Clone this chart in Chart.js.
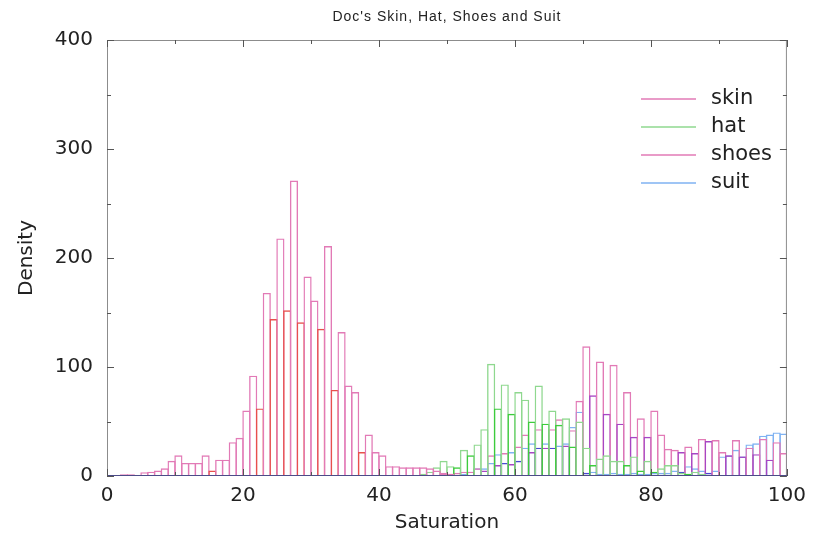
<!DOCTYPE html>
<html><head><meta charset="utf-8">
<script src="https://cdn.jsdelivr.net/npm/chart.js@4.4.1/dist/chart.umd.min.js"></script>
<style>html,body{margin:0;padding:0;background:#fff}#wrap{width:814px;height:538px}</style>
</head><body><div id="wrap"><canvas id="c" width="814" height="538"></canvas></div>
<script>
const chartTitle = "Doc's Skin, Hat, Shoes and Suit";
const xTitle = "Saturation";
const yTitle = "Density";
const seriesNames = ["skin", "hat", "shoes", "suit"];
const xTickValues = [0, 20, 40, 60, 80, 100];
const yTickValues = [0, 100, 200, 300, 400];
// bin centres (bins of width 1 from 0 to 100)
const binCenters = Array.from({length: 100}, (_, i) => i + 0.5);

const skin = [
  0, 0.5, 1.5, 1.5, 0.5, 3.5, 4, 5, 7, 14,
  19, 12, 12, 12, 19, 5, 15, 15, 31, 35,
  60, 92, 62, 168, 144, 218, 152, 271, 141, 183,
  161, 135, 211, 79, 132, 83, 77, 22, 38, 22,
  19, 9, 9, 8, 8, 8, 8, 7, 5, 3,
  2, 1, 1, 0.5, 0.5, 0, 0, 0, 0, 0,
  0, 0, 0, 0, 0, 0, 0, 0, 0, 0,
  0, 0, 0, 0, 0, 0, 0, 0, 0, 0,
  0, 0, 0, 0, 0, 0, 0, 0, 0, 0,
  0, 0, 0, 0, 0, 0, 0, 0, 0, 0
];
const hat = [
  0, 0, 0, 0, 0, 0, 0, 0, 0, 0,
  0, 0, 0, 0, 0, 0, 0, 0, 0, 0,
  0, 0, 0, 0, 0, 0, 0, 0, 0, 0,
  0, 0, 0, 0, 0, 0, 0, 0, 0, 0,
  0, 0, 0, 0, 0, 1, 2, 4, 8, 14,
  9, 8, 24, 19, 29, 43, 103, 62, 84, 57,
  77, 70, 50, 83, 48, 60, 47, 53, 27, 50,
  26, 10, 16, 19, 14, 14, 10, 18, 5, 14,
  4, 7, 10, 10, 3, 2, 4, 2, 1, 1,
  1, 0.5, 0.5, 0, 0, 0, 0, 0, 0, 0
];
const shoes = [
  0, 0, 0, 0, 0, 0, 0, 0, 0, 0,
  0, 0, 0, 0, 0, 0, 0, 0, 0, 0,
  0, 0, 0, 0, 0, 0, 0, 0, 0, 0,
  0, 0, 0, 0, 0, 0, 0, 0, 0, 0,
  0, 0, 0, 0, 0, 0, 0, 1, 1, 2,
  2, 3, 4, 4, 7, 5, 19, 10, 21, 11,
  27, 38, 22, 43, 26, 43, 52, 28, 42, 69,
  119, 74, 105, 57, 102, 48, 77, 36, 53, 36,
  60, 38, 25, 24, 22, 27, 21, 34, 32, 33,
  22, 19, 33, 18, 26, 20, 34, 15, 31, 21
];
const suit = [
  0, 0, 0, 0, 0, 0, 0, 0, 0, 0,
  0, 0, 0, 0, 0, 0, 0, 0, 0, 0,
  0, 0, 0, 0, 0, 0, 0, 0, 0, 0,
  0, 0, 0, 0, 0, 0, 0, 0, 0, 0,
  0, 0, 0, 0, 0, 0, 0, 0, 0, 0,
  1, 1, 2, 4, 7, 7, 12, 20, 12, 22,
  14, 26, 30, 26, 30, 26, 28, 30, 45, 59,
  3, 4, 2, 2, 3, 2, 2, 3, 2, 2,
  3, 3, 3, 5, 4, 9, 7, 5, 3, 5,
  18, 19, 24, 18, 29, 30, 37, 38, 40, 39
];

const seriesValues = [skin, hat, shoes, suit];
const lightColors = ["#e27ab6", "#8fd88f", "#e27ab6", "#7fb2f2"];
const satColors = ["#e8504c", "#3ccc3c", "#a646c4", "#4a4ad0"];

function barColors(vals, light, sat) {
  return vals.map((v, i) => {
    const p = i > 0 ? vals[i - 1] : -1, n = i < vals.length - 1 ? vals[i + 1] : -1;
    return (v < p && v < n) ? sat : light;
  });
}

const datasets = seriesNames.map((name, k) => ({
  label: name,
  data: binCenters.map((c, i) => ({x: c, y: seriesValues[k][i]})),
  backgroundColor: 'rgba(0,0,0,0)',
  borderColor: barColors(seriesValues[k], lightColors[k], satColors[k]),
  legendColor: lightColors[k],
  borderWidth: 1.4,
  borderSkipped: 'start',
  grouped: false,
  categoryPercentage: 1,
  barPercentage: 1.2
}));

const FONT = "'DejaVu Sans', sans-serif";

const overlay = {
  id: 'overlay',
  afterDraw(chart) {
    const {ctx, chartArea: a, scales: {x, y}} = chart;
    ctx.save();
    // frame
    ctx.lineWidth = 1;
    ctx.strokeStyle = '#8c8c8c';
    ctx.beginPath();
    ctx.moveTo(a.left + 0.5, a.bottom); ctx.lineTo(a.left + 0.5, a.top + 0.5);
    ctx.lineTo(a.right - 0.5, a.top + 0.5); ctx.lineTo(a.right - 0.5, a.bottom);
    ctx.stroke();
    ctx.strokeStyle = '#4c4c88';
    ctx.beginPath();
    ctx.moveTo(a.left, a.bottom - 0.5); ctx.lineTo(a.right, a.bottom - 0.5);
    ctx.stroke();
    // ticks
    ctx.strokeStyle = '#555';
    ctx.beginPath();
    for (let v = 0; v <= 100; v += 10) {
      const px = Math.round(x.getPixelForValue(v)) + 0.5;
      const len = (v % 20 === 0) ? 7 : 4;
      ctx.moveTo(px, a.bottom); ctx.lineTo(px, a.bottom - len);
      ctx.moveTo(px, a.top); ctx.lineTo(px, a.top + len);
    }
    for (let v = 0; v <= 400; v += 50) {
      const py = Math.round(y.getPixelForValue(v)) + 0.5;
      const len = (v % 100 === 0) ? 7 : 4;
      ctx.moveTo(a.left, py); ctx.lineTo(a.left + len, py);
      ctx.moveTo(a.right, py); ctx.lineTo(a.right - len, py);
    }
    ctx.stroke();
    // title
    ctx.fillStyle = '#222';
    ctx.font = "14px 'Liberation Sans', Arial, sans-serif";
    ctx.letterSpacing = '1px';
    ctx.textAlign = 'center';
    ctx.textBaseline = 'middle';
    ctx.fillText(chartTitle, (a.left + a.right) / 2, 17);
    ctx.letterSpacing = '0px';
    // legend
    ctx.font = "21px " + FONT;
    ctx.textAlign = 'left';
    chart.data.datasets.forEach((ds, i) => {
      const ly = 99 + 28 * i;
      ctx.strokeStyle = ds.legendColor;
      ctx.lineWidth = 1.5;
      ctx.beginPath();
      ctx.moveTo(641, ly); ctx.lineTo(696, ly);
      ctx.stroke();
      ctx.fillStyle = '#222';
      ctx.fillText(ds.label, 711, ly);
    });
    ctx.restore();
  }
};

new Chart(document.getElementById('c'), {
  type: 'bar',
  data: {datasets},
  options: {
    responsive: false,
    animation: false,
    devicePixelRatio: 1,
    layout: {padding: {left: 0, top: 40, right: 24, bottom: 0}},
    plugins: {legend: {display: false}, title: {display: false}, tooltip: {enabled: false}},
    scales: {
      x: {
        type: 'linear', min: 0, max: 100, offset: false,
        grid: {display: false, drawTicks: false},
        border: {display: false},
        afterBuildTicks: s => { s.ticks = xTickValues.map(v => ({value: v})); },
        ticks: {color: '#222', font: {family: FONT, size: 20}, padding: 8, maxRotation: 0, autoSkip: false},
        title: {display: true, text: xTitle, color: '#222', font: {family: FONT, size: 20}, padding: {top: 0, bottom: 3}},
        afterFit: s => { s.height = 62; }
      },
      y: {
        min: 0, max: 400,
        grid: {display: false, drawTicks: false},
        border: {display: false},
        afterBuildTicks: s => { s.ticks = yTickValues.map(v => ({value: v})); },
        ticks: {color: '#222', font: {family: FONT, size: 20}, padding: 14},
        title: {display: true, text: yTitle, color: '#222', font: {family: FONT, size: 20}, padding: {top: 15, bottom: 0}},
        afterFit: s => { s.width = 107; }
      }
    }
  },
  plugins: [overlay]
});
</script>
</body></html>
